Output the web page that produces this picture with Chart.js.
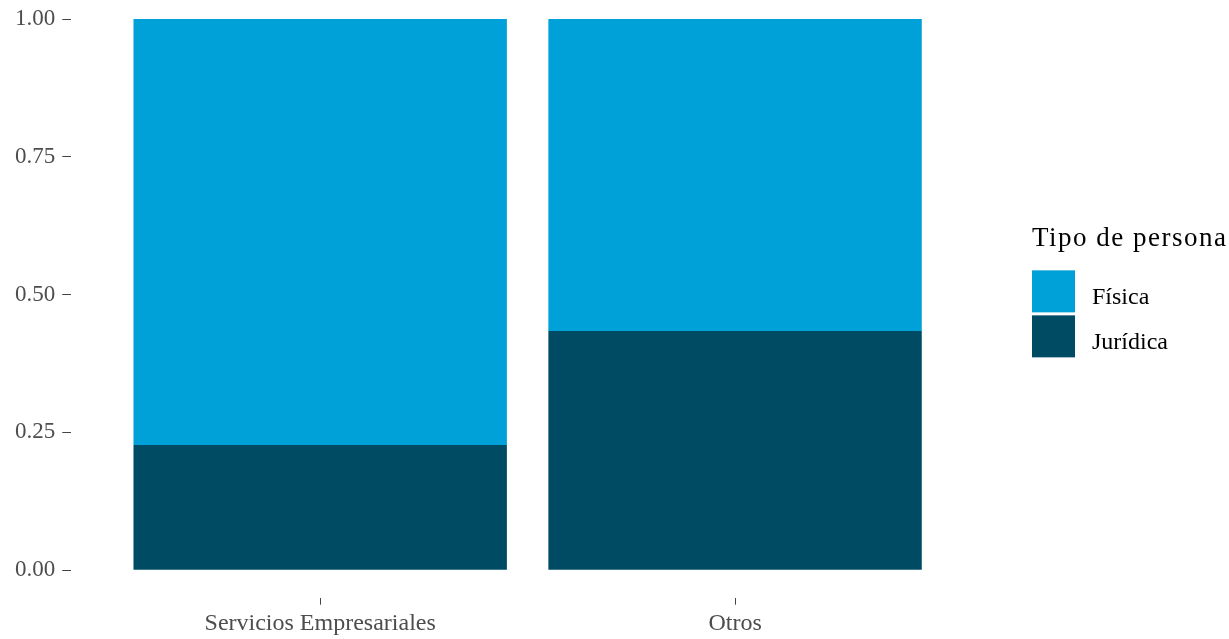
<!DOCTYPE html>
<html>
<head>
<meta charset="utf-8">
<title>Tipo de persona</title>
<script src="https://cdn.jsdelivr.net/npm/chart.js@4.4.1/dist/chart.umd.min.js"></script>
<style>
  html, body { margin: 0; padding: 0; background: #ffffff; }
  #wrap { position: relative; width: 1229px; height: 639px; }
</style>
</head>
<body>
<div id="wrap"><canvas id="chart"></canvas></div>
<script>
// data
const categories = ['Servicios Empresariales', 'Otros'];
const juridicaValues = [0.227, 0.434];
const fisicaValues = [0.773, 0.566];
const yTickValues = [0, 0.25, 0.5, 0.75, 1];
const legendTitle = 'Tipo de persona';

const serif = '"Liberation Serif", "Times New Roman", serif';
const colorFisica = '#00a0d8';
const colorJuridica = '#004b64';

// ggplot-style legend drawn to the right of the panel
const ggLegend = {
  id: 'ggLegend',
  afterDraw(chart) {
    const { ctx, chartArea } = chart;
    const x = chartArea.right + 48;
    const mid = (chartArea.top + chartArea.bottom) / 2;
    ctx.save();
    ctx.textBaseline = 'alphabetic';
    ctx.textAlign = 'left';
    ctx.fillStyle = '#000000';
    ctx.font = '27px ' + serif;
    ctx.letterSpacing = '1.5px';
    ctx.fillText(legendTitle, x, mid - 62);
    ctx.letterSpacing = '0px';
    ctx.font = '24px ' + serif;
    // Física listed first, i.e. reverse of stacking order
    chart.data.datasets.slice().reverse().forEach((ds, i) => {
      const top = mid - 38 + i * 45;
      ctx.fillStyle = ds.backgroundColor;
      ctx.fillRect(x, top, 43, 42);
      ctx.fillStyle = '#000000';
      ctx.fillText(ds.label, x + 60, top + 34);
    });
    ctx.restore();
  }
};

const positions = categories.map((c, i) => i + 1);

new Chart(document.getElementById('chart').getContext('2d'), {
  type: 'bar',
  data: {
    labels: positions,
    datasets: [
      {
        label: 'Jurídica',
        data: juridicaValues,
        backgroundColor: colorJuridica,
        borderWidth: 0,
        categoryPercentage: 1,
        barPercentage: 0.9,
      },
      {
        label: 'Física',
        data: fisicaValues,
        backgroundColor: colorFisica,
        borderWidth: 0,
        categoryPercentage: 1,
        barPercentage: 0.9,
      },
    ],
  },
  options: {
    responsive: true,
    maintainAspectRatio: false,
    animation: false,
    layout: { padding: { left: 8, right: 245, top: 19, bottom: -4.5 } },
    plugins: {
      legend: { display: false },
      tooltip: { enabled: false },
    },
    scales: {
      x: {
        type: 'linear',
        stacked: true,
        min: 0.4,
        max: 2.6,
        offset: false,
        afterBuildTicks: (scale) => {
          scale.ticks = positions.map(v => ({ value: v }));
        },
        border: { display: false },
        grid: {
          offset: false,
          drawOnChartArea: false,
          drawTicks: true,
          tickLength: 7,
          color: '#444444',
        },
        ticks: {
          maxRotation: 0,
          autoSkip: false,
          padding: 5,
          color: '#4d4d4d',
          font: { family: serif, size: 24 },
          callback: (value) => categories[value - 1],
        },
      },
      y: {
        stacked: true,
        min: -0.05,
        max: 1,
        afterBuildTicks: (scale) => {
          scale.ticks = yTickValues.map(v => ({ value: v }));
        },
        border: { display: false },
        grid: {
          drawOnChartArea: false,
          drawTicks: true,
          tickLength: 9,
          color: '#444444',
        },
        ticks: {
          padding: 7,
          color: '#4d4d4d',
          font: { family: serif, size: 23, lineHeight: 1 },
          callback: (value) => Number(value).toFixed(2),
        },
      },
    },
  },
  plugins: [ggLegend],
});
</script>
</body>
</html>
